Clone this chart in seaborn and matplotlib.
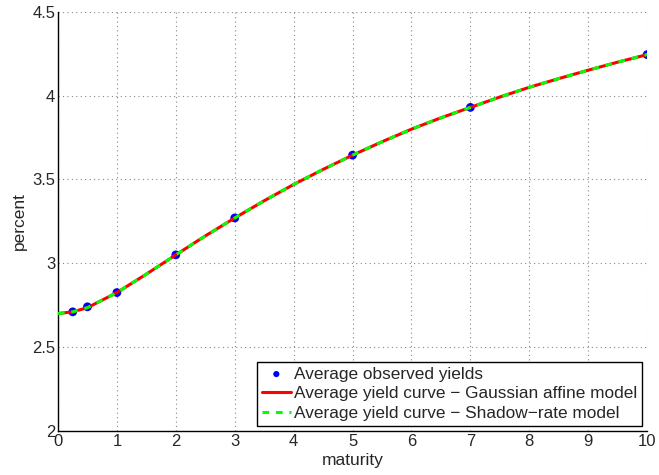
import numpy as np
import pandas as pd
import seaborn as sns
import matplotlib.pyplot as plt

# observed average yields (percent) by maturity (years)
obs_maturity = [0.25, 0.5, 1, 2, 3, 5, 7, 10]
obs_yield = [2.71, 2.74, 2.825, 3.05, 3.27, 3.645, 3.93, 4.245]

# fitted curves
curve_maturity = [0, 0.25, 0.5, 1, 1.5, 2, 2.5, 3, 3.5, 4, 4.5, 5, 5.5, 6, 6.5, 7, 7.5, 8, 8.5, 9, 9.5, 10]
gaussian_yield = [2.70, 2.71, 2.735, 2.825, 2.935, 3.05, 3.163, 3.27, 3.373, 3.47, 3.56, 3.645,
                  3.725, 3.80, 3.868, 3.93, 3.992, 4.05, 4.102, 4.152, 4.20, 4.245]
shadow_yield = [2.70, 2.71, 2.735, 2.825, 2.935, 3.05, 3.163, 3.27, 3.373, 3.47, 3.56, 3.645,
                3.725, 3.80, 3.868, 3.93, 3.992, 4.05, 4.102, 4.152, 4.20, 4.245]

obs = pd.DataFrame({"maturity": obs_maturity, "yield": obs_yield})
curves = pd.DataFrame({"maturity": curve_maturity, "gauss": gaussian_yield, "shadow": shadow_yield})

sns.set_style("white")
plt.rcParams["font.family"] = ["Liberation Sans", "DejaVu Sans"]
plt.rcParams["font.size"] = 12
plt.rcParams["xtick.direction"] = "in"
plt.rcParams["ytick.direction"] = "in"

fig = plt.figure(figsize=(6.59, 4.75), dpi=100)
ax = fig.add_axes([0.088, 0.093, 0.894, 0.882])

sns.scatterplot(data=obs, x="maturity", y="yield", ax=ax, color="blue", s=40,
                edgecolor="none", label="Average observed yields", zorder=2)
sns.lineplot(data=curves, x="maturity", y="gauss", ax=ax, color="red", linewidth=2.2,
             label="Average yield curve \u2212 Gaussian affine model", zorder=3)
sns.lineplot(data=curves, x="maturity", y="shadow", ax=ax, color="#00ff00", linewidth=2.2,
             linestyle=(0, (2.2, 2.2)), label="Average yield curve \u2212 Shadow\u2212rate model", zorder=4)

ax.set_xlim(0, 10)
ax.set_ylim(2, 4.5)
ax.set_xticks(np.arange(0, 11, 1))
ax.set_yticks([2, 2.5, 3, 3.5, 4, 4.5])
ax.set_yticklabels(["2", "2.5", "3", "3.5", "4", "4.5"])
ax.set_xlabel("maturity", fontsize=12.5, labelpad=3)
ax.set_ylabel("percent", fontsize=12.5, labelpad=4)
ax.tick_params(axis="both", length=5, width=0.8, color="black", labelsize=12, pad=2)
ax.grid(True, linestyle=(0, (1, 3)), color="#888888", linewidth=0.8)
for side in ["top", "right"]:
    ax.spines[side].set_visible(False)
for side in ["left", "bottom"]:
    ax.spines[side].set_color("black")
    ax.spines[side].set_linewidth(1.0)

leg = ax.legend(loc="lower right", fontsize=12.4, frameon=True, fancybox=False,
                framealpha=1, edgecolor="black", handlelength=1.7, handletextpad=0.2,
                borderaxespad=0.3, borderpad=0.25, labelspacing=0.28, markerscale=0.7)
leg.get_frame().set_linewidth(1.0)

fig.savefig("out.png", dpi=100)
